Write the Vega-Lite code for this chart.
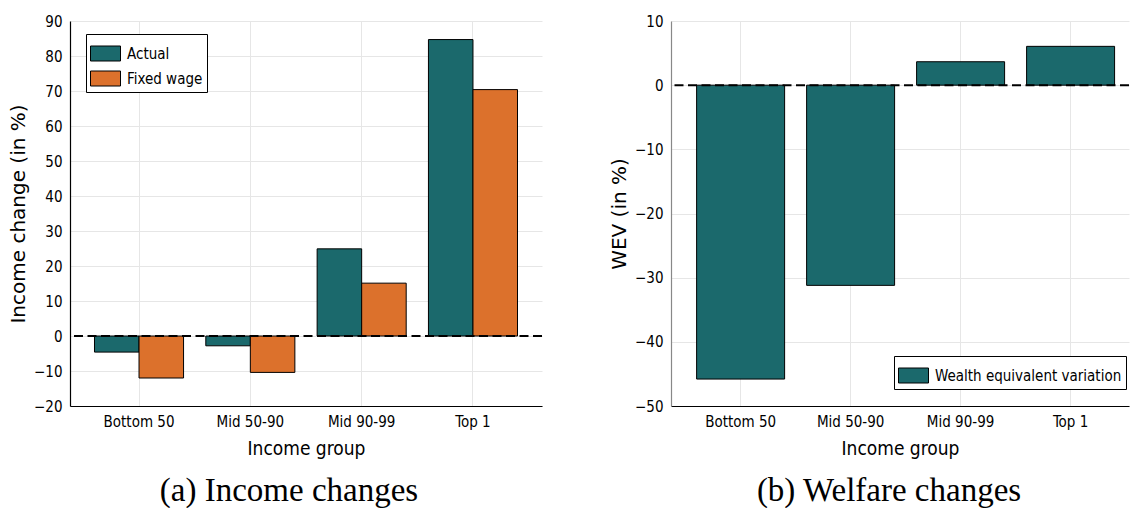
{
  "$schema": "https://vega.github.io/schema/vega-lite/v6.json",
  "background": "white",
  "padding": {"left": 8, "top": 14, "right": 0, "bottom": 0},
  "spacing": 66,
  "datasets": {
    "income": [
      {"group": "Bottom 50", "series": "Actual", "value": -4.6},
      {"group": "Bottom 50", "series": "Fixed wage", "value": -12.0},
      {"group": "Mid 50-90", "series": "Actual", "value": -2.8},
      {"group": "Mid 50-90", "series": "Fixed wage", "value": -10.4},
      {"group": "Mid 90-99", "series": "Actual", "value": 24.9},
      {"group": "Mid 90-99", "series": "Fixed wage", "value": 15.1},
      {"group": "Top 1", "series": "Actual", "value": 84.7},
      {"group": "Top 1", "series": "Fixed wage", "value": 70.4}
    ],
    "welfare": [
      {"group": "Bottom 50", "series": "Wealth equivalent variation", "value": -45.8},
      {"group": "Mid 50-90", "series": "Wealth equivalent variation", "value": -31.2},
      {"group": "Mid 90-99", "series": "Wealth equivalent variation", "value": 3.65},
      {"group": "Top 1", "series": "Wealth equivalent variation", "value": 6.05}
    ]
  },
  "config": {
    "view": {"stroke": null},
    "font": "DejaVu Sans Condensed",
    "axis": {
      "labelFont": "DejaVu Sans Condensed",
      "labelFontSize": 15,
      "labelColor": "black",
      "labelOverlap": false,
      "titleColor": "black",
      "titleFontWeight": "normal",
      "gridColor": "#e6e6e6",
      "gridWidth": 1,
      "domainColor": "black",
      "domainWidth": 1.2,
      "ticks": false
    },
    "axisX": {
      "titleFont": "DejaVu Sans Condensed",
      "titleFontSize": 19,
      "labelPadding": 8,
      "titlePadding": 10
    },
    "axisY": {
      "titleFont": "DejaVu Sans",
      "titleFontSize": 20,
      "labelPadding": 8,
      "titlePadding": 5
    },
    "legend": {
      "orient": "none",
      "title": null,
      "symbolType": "M-1,-0.5H1V0.5H-1Z",
      "symbolSize": 900,
      "symbolStrokeColor": "black",
      "symbolStrokeWidth": 1,
      "symbolOpacity": 1,
      "labelFont": "DejaVu Sans Condensed",
      "labelFontSize": 15,
      "labelColor": "black",
      "labelOffset": 6,
      "labelLimit": 400,
      "strokeColor": "black",
      "fillColor": "white",
      "padding": 4,
      "rowPadding": -11,
      "cornerRadius": 0
    },
    "title": {
      "font": "Liberation Serif",
      "fontSize": 33,
      "fontWeight": "normal",
      "color": "black"
    }
  },
  "resolve": {
    "scale": {"x": "independent", "y": "independent", "color": "independent", "xOffset": "independent"},
    "legend": {"color": "independent"}
  },
  "hconcat": [
    {
      "width": 472,
      "height": 385,
      "title": {"text": "(a) Income changes", "orient": "bottom", "anchor": "middle", "frame": "group", "dx": -17, "offset": 17},
      "layer": [
        {
          "data": {"name": "income"},
          "mark": {"type": "bar", "stroke": "black", "strokeWidth": 1},
          "encoding": {
            "x": {
              "field": "group", "type": "nominal",
              "sort": ["Bottom 50", "Mid 50-90", "Mid 90-99", "Top 1"],
              "scale": {"paddingInner": 0.2, "paddingOuter": 0.22},
              "axis": {"title": "Income group", "labelAngle": 0, "bandPosition": 0.5, "grid": true}
            },
            "xOffset": {
              "field": "series", "type": "nominal",
              "sort": ["Actual", "Fixed wage"],
              "scale": {"paddingInner": 0, "paddingOuter": 0}
            },
            "y": {
              "field": "value", "type": "quantitative",
              "scale": {"domain": [-20, 90], "nice": false, "zero": false},
              "axis": {"title": "Income change (in %)", "values": [-20, -10, 0, 10, 20, 30, 40, 50, 60, 70, 80, 90], "grid": true, "labelOverlap": false}
            },
            "color": {
              "field": "series", "type": "nominal",
              "scale": {"domain": ["Actual", "Fixed wage"], "range": ["#1b696c", "#dc712c"]},
              "legend": {"legendX": 16, "legendY": 13}
            }
          }
        },
        {
          "data": {"values": [{}]},
          "mark": {"type": "rule", "color": "black", "strokeWidth": 2, "strokeDash": [9, 4.5]},
          "encoding": {"y": {"datum": 0, "type": "quantitative", "axis": {"title": "Income change (in %)", "values": [-20, -10, 0, 10, 20, 30, 40, 50, 60, 70, 80, 90], "grid": true, "labelOverlap": false}}}
        }
      ]
    },
    {
      "width": 458,
      "height": 385,
      "title": {"text": "(b) Welfare changes", "orient": "bottom", "anchor": "middle", "frame": "group", "dx": -11, "offset": 17},
      "layer": [
        {
          "data": {"name": "welfare"},
          "mark": {"type": "bar", "stroke": "black", "strokeWidth": 1},
          "encoding": {
            "x": {
              "field": "group", "type": "nominal",
              "sort": ["Bottom 50", "Mid 50-90", "Mid 90-99", "Top 1"],
              "scale": {"paddingInner": 0.2, "paddingOuter": 0.182, "align": 0.64},
              "axis": {"title": "Income group", "labelAngle": 0, "bandPosition": 0.5, "grid": true}
            },
            "y": {
              "field": "value", "type": "quantitative",
              "scale": {"domain": [-50, 10], "nice": false, "zero": false},
              "axis": {"title": "WEV (in %)", "values": [-50, -40, -30, -20, -10, 0, 10], "grid": true, "domainColor": "#888888"}
            },
            "color": {
              "field": "series", "type": "nominal",
              "scale": {"domain": ["Wealth equivalent variation"], "range": ["#1b696c"]},
              "legend": {"legendX": 223, "legendY": 335}
            }
          }
        },
        {
          "data": {"values": [{}]},
          "mark": {"type": "rule", "color": "black", "strokeWidth": 2, "strokeDash": [9, 4.5]},
          "encoding": {"y": {"datum": 0, "type": "quantitative", "axis": {"title": "WEV (in %)", "values": [-50, -40, -30, -20, -10, 0, 10], "grid": true, "domainColor": "#888888"}}}
        }
      ]
    }
  ]
}
